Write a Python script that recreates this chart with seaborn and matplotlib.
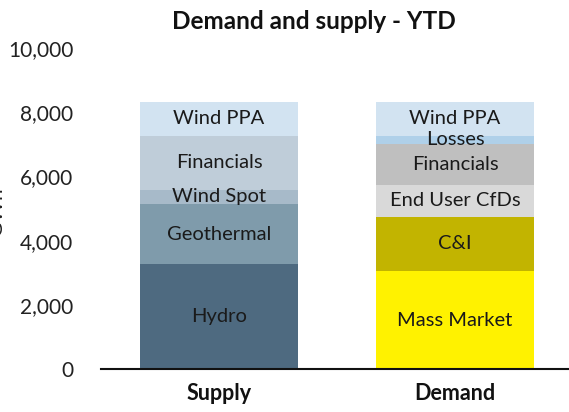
import numpy as np
import pandas as pd
import seaborn as sns
import matplotlib.pyplot as plt

bars = ["Supply", "Demand"]

supply_labels = ["Hydro", "Geothermal", "Wind Spot", "Financials", "Wind PPA"]
supply_values = [3270, 1870, 440, 1680, 1060]
supply_colors = ["#4e6a80", "#7f9bab", "#a7bac9", "#bfcdd9", "#d2e3f1"]

demand_labels = ["Mass Market", "C&I", "End User CfDs", "Financials", "Losses", "Wind PPA"]
demand_values = [3050, 1690, 990, 1280, 260, 1050]
demand_colors = ["#fff200", "#c2b400", "#d9d9d9", "#bfbfbf", "#afd0e9", "#d2e3f1"]

sns.set_theme(style="white")
plt.rcParams['font.family'] = ['Lato', 'DejaVu Sans']

fig = plt.figure(figsize=(5.69, 4.12), dpi=100)
ax = fig.add_axes([101 / 569, 1 - 369 / 412, 468 / 569, 321 / 412])

rows = []
for bar, labels, values, colors in [("Supply", supply_labels, supply_values, supply_colors),
                                    ("Demand", demand_labels, demand_values, demand_colors)]:
    cum = np.cumsum(values)
    for lab, v, c, top in zip(labels, values, colors, cum):
        rows.append({"bar": bar, "label": lab, "value": v, "top": top, "color": c})
df = pd.DataFrame(rows)

# stacked by overlaying cumulative totals, biggest first
for _, r in df.sort_values("top", ascending=False).iterrows():
    sns.barplot(x=[r["bar"]], y=[r["top"]], order=bars, color=r["color"],
                width=0.67, saturation=1, ax=ax, linewidth=0)

for _, r in df.iterrows():
    xi = bars.index(r["bar"])
    ax.text(xi, r["top"] - r["value"] / 2, r["label"], ha="center", va="center",
            fontsize=14.5, color="#1a1a1a")

ax.set_xlim(-0.5, 1.483)
ax.set_ylim(0, 10000)
ax.set_yticks(range(0, 10001, 2000))
ax.set_yticklabels([f"{t:,}" for t in range(0, 10001, 2000)], fontsize=15, color="#222222")
ax.set_xticks([0, 1])
ax.set_xticklabels(bars, fontsize=15.5, fontweight="bold", color="#111111")
ax.tick_params(axis="y", length=0, pad=20)
ax.tick_params(axis="x", length=0, pad=10)
for s in ["top", "right", "left"]:
    ax.spines[s].set_visible(False)
ax.spines["bottom"].set_color("#111111")
ax.spines["bottom"].set_linewidth(1.5)
ax.set_xlabel("")
ax.set_ylabel("GWh", fontsize=15, color="#222222")
ax.yaxis.set_label_coords(-0.203, 0.49)
fig.text(0.552, 0.947, "Demand and supply - YTD", ha="center", va="center",
         fontsize=17.5, fontweight="bold", color="#111111")

fig.savefig("out.png", dpi=100)
